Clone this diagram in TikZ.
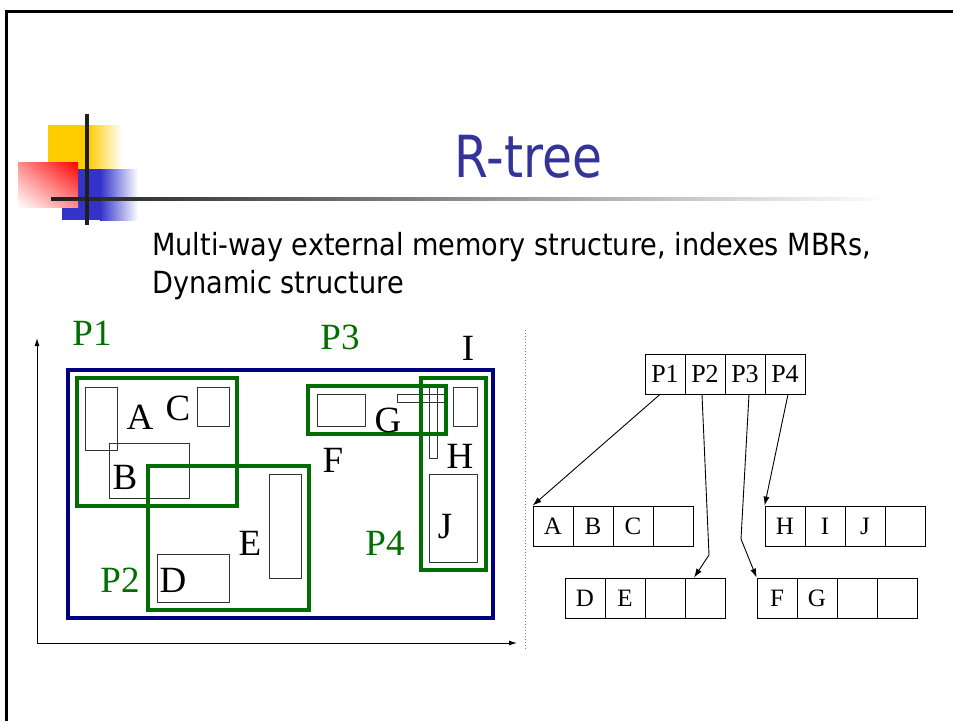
\documentclass[tikz,border=0pt]{standalone}
\usepackage{fontspec}
\setmainfont{Liberation Serif}
\newfontfamily\tah[FakeStretch=0.84]{DejaVu Sans}
\newfontfamily\tahbody[FakeStretch=0.89]{DejaVu Sans}
\usetikzlibrary{arrows.meta,calc,shadings}
\definecolor{titleblue}{RGB}{51,51,153}
\definecolor{navy}{RGB}{0,0,128}
\definecolor{pgreen}{RGB}{0,110,0}
\definecolor{goldy}{RGB}{255,204,0}
\definecolor{decoblue}{RGB}{51,51,204}
\begin{document}
\begin{tikzpicture}[x=1pt,y=-1pt,
  mbr/.style={draw=pgreen, line width=4pt},
  obj/.style={draw=black!80, line width=1pt},
  lbl/.style={font=\fontsize{37}{40}\selectfont, inner sep=0pt},
  plbl/.style={lbl, text=pgreen},
  cell/.style={draw, line width=0.8pt, minimum width=40pt, minimum height=40pt, inner sep=0pt, font=\fontsize{25}{28}\selectfont},
  rcell/.style={cell, font=\fontsize{26}{28}\selectfont},
  ptr/.style={-{Latex[length=9pt,width=6pt]}, line width=0.9pt},
  axis/.style={-{Latex[length=8pt,width=5pt]}, line width=1pt},
  bodytxt/.style={font=\tahbody\fontsize{30.5}{36}\selectfont, anchor=base west, inner sep=0pt}
]
\useasboundingbox (0,0) rectangle (953,721);
% frame
\draw[line width=3pt] (6,721) -- (6,11) -- (953,11);
% decoration
\fill[goldy] (48,125) rectangle (88,170);
\shade[left color=goldy, right color=white] (88,125) rectangle (122,170);
\fill[decoblue] (62,169) rectangle (100,220);
\shade[left color=decoblue, right color=white] (100,169) rectangle (138,220);
\shade[upper right=red, lower left=white, upper left=red!45, lower right=red!45] (18,162) rectangle (78,207);
\shade[left color=black!88, right color=white] (51,197.5) rectangle (890,200.5);
\fill[black!88] (85,114) rectangle (89,225);
% title and text
\node[font=\tah\fontsize{58}{60}\selectfont, text=titleblue, inner sep=0pt] (title) at (528.5,157) {R-tree};
\node[bodytxt] (line1) at (152,255) {Multi-way external memory structure, indexes MBRs,};
\node[bodytxt] (line2) at (152,293) {Dynamic structure};
% axes
\coordinate (o) at (37,643);
\coordinate (ytip) at (37,338);
\coordinate (xtip) at (517,643);
\draw[axis] (o) -- (ytip);
\draw[axis] (o) -- (xtip);
\draw[gray, dotted, line width=1pt] (525,330) -- (525,650);
% space
\draw[navy, line width=4pt] (68,370) rectangle (493,618);
\draw[obj] (85,387) rectangle (117,450);
\draw[obj] (109,443) rectangle (189,498);
\draw[obj] (197,387) rectangle (229,426);
\draw[obj] (157,554) rectangle (229,602);
\draw[obj] (269,474) rectangle (301,578);
\draw[obj] (317,394) rectangle (365,426);
\draw[obj] (397,394) rectangle (445,402);
\draw[obj] (429,386) rectangle (437,458);
\draw[obj] (453,387) rectangle (477,426);
\draw[obj] (429,474) rectangle (477,562);
\draw[mbr] (77,378) rectangle (237,506);
\draw[mbr] (148,466) rectangle (309,610);
\draw[mbr] (308,386) rectangle (446,434);
\draw[mbr] (421,378) rectangle (486,570);
\node[lbl] (lA) at (140,417) {A};
\node[lbl] (lB) at (125,477) {B};
\node[lbl] (lC) at (178,408) {C};
\node[lbl] (lD) at (173,580) {D};
\node[lbl] (lE) at (250,543) {E};
\node[lbl] (lF) at (333,460) {F};
\node[lbl] (lG) at (388,420) {G};
\node[lbl] (lH) at (460,456) {H};
\node[lbl] (lI) at (468,348) {I};
\node[lbl] (lJ) at (445,527) {J};
\node[plbl] (lP1) at (92,333) {P1};
\node[plbl] (lP2) at (120,580) {P2};
\node[plbl] (lP3) at (340,337) {P3};
\node[plbl] (lP4) at (385,543) {P4};
% tree
\node[rcell] (p1) at (665,374) {P1};
\node[rcell] (p2) at (705,374) {P2};
\node[rcell] (p3) at (745,374) {P3};
\node[rcell] (p4) at (785,374) {P4};
\node[cell] (a1) at (553,526) {A};
\node[cell] (a2) at (593,526) {B};
\node[cell] (a3) at (633,526) {C};
\node[cell] (a4) at (673,526) {};
\node[cell] (h1) at (785,526) {H};
\node[cell] (h2) at (825,526) {I};
\node[cell] (h3) at (865,526) {J};
\node[cell] (h4) at (905,526) {};
\node[cell] (d1) at (585,598) {D};
\node[cell] (d2) at (625,598) {E};
\node[cell] (d3) at (665,598) {};
\node[cell] (d4) at (705,598) {};
\node[cell] (f1) at (777,598) {F};
\node[cell] (f2) at (817,598) {G};
\node[cell] (f3) at (857,598) {};
\node[cell] (f4) at (897,598) {};
\coordinate (k2) at (709,555);
\coordinate (k3) at (741,539);
\draw[ptr] ([xshift=-5pt]p1.south) -- (a1.north west);
\draw[ptr] ([xshift=-3pt]p2.south) -- (k2) -- ([xshift=-11pt]d4.north);
\draw[ptr] ([xshift=4pt]p3.south) -- (k3) -- (f1.north west);
\draw[ptr] ([xshift=3pt]p4.south) -- (h1.north west);
\end{tikzpicture}
\end{document}
